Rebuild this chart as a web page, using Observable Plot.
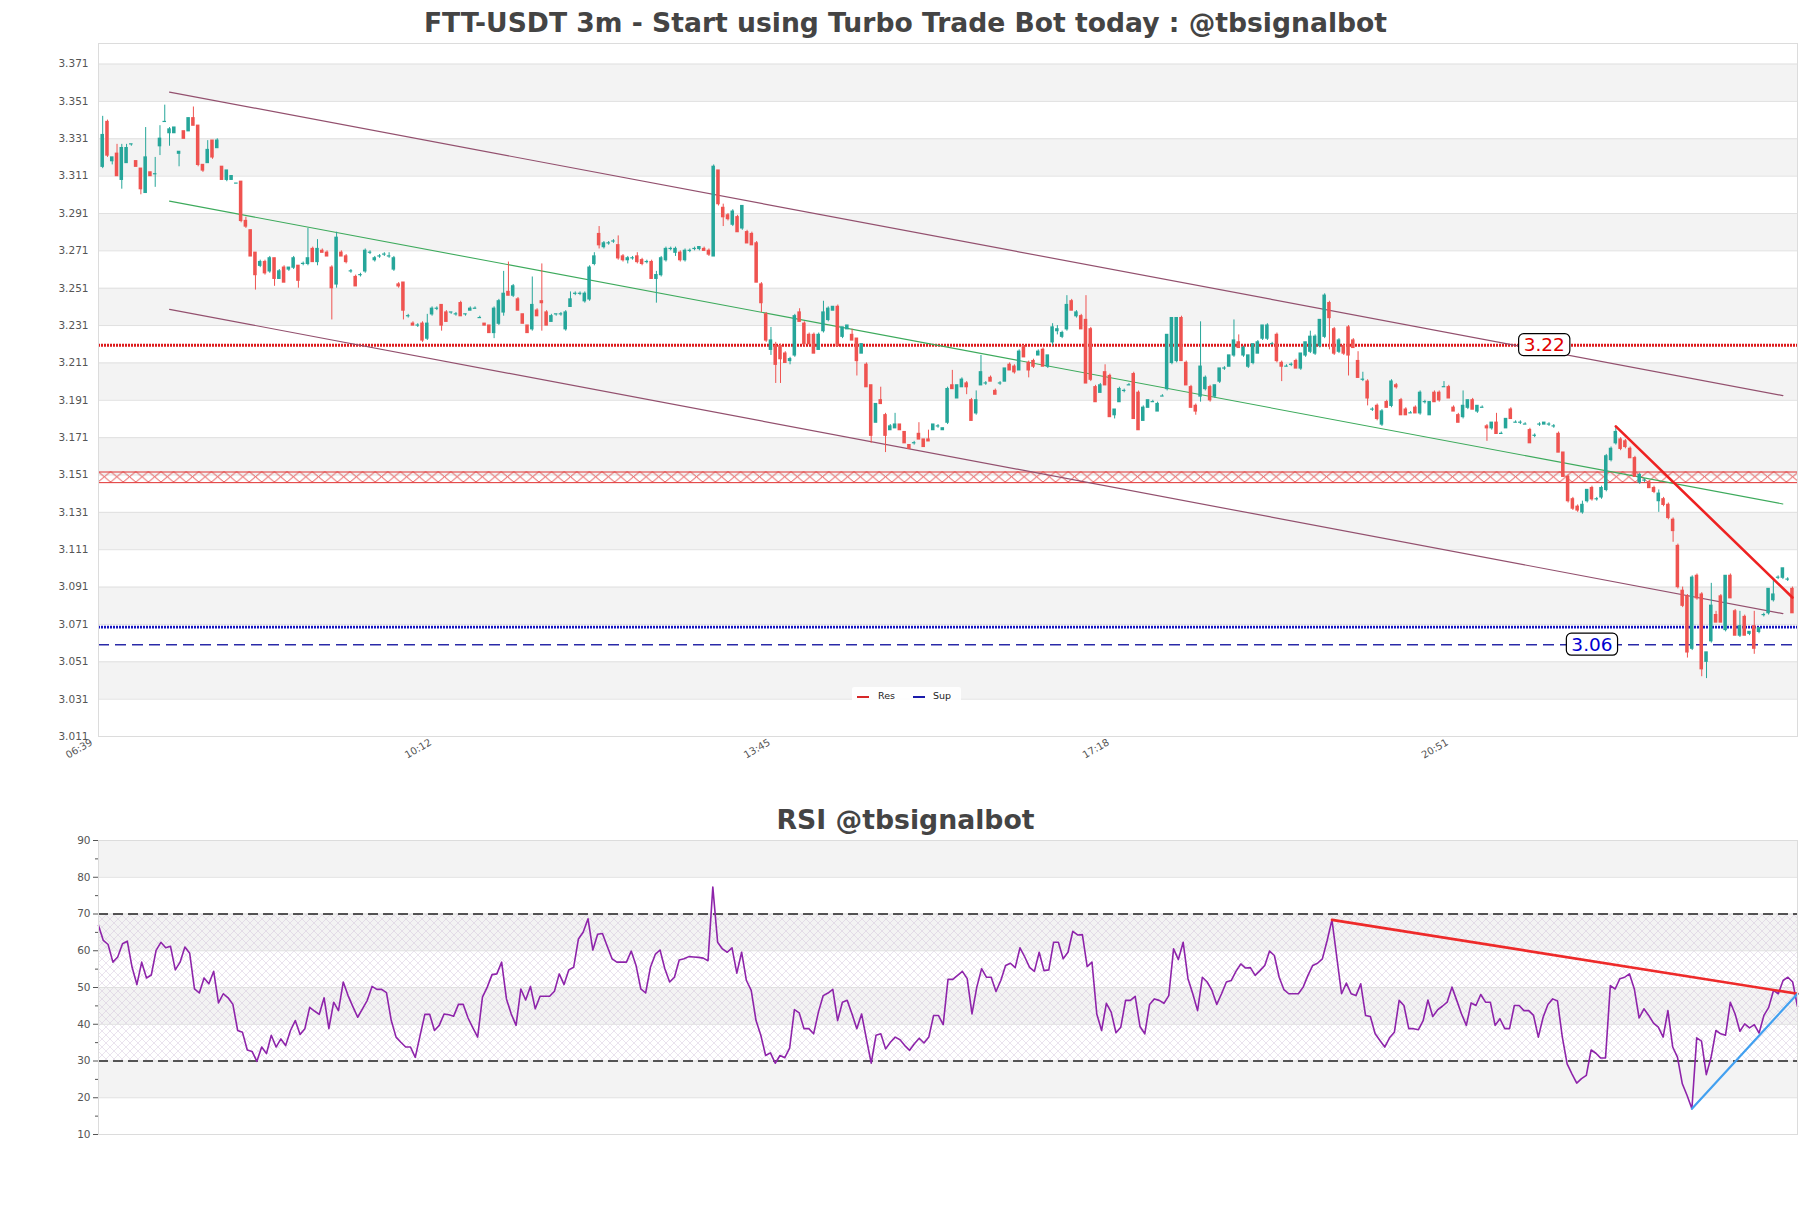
<!DOCTYPE html>
<html>
<head>
<meta charset="utf-8">
<script src="https://cdn.jsdelivr.net/npm/d3@7"></script>
<script src="https://cdn.jsdelivr.net/npm/@observablehq/plot@0.6"></script>
<style>
  html,body{margin:0;padding:0;background:#fff;}
  #wrap{position:relative;width:1811px;height:1208px;overflow:hidden;font-family:"DejaVu Sans",sans-serif;background:#fff;}
  .ttl{position:absolute;left:0;width:1811px;text-align:center;font-weight:bold;line-height:26px;color:#444;white-space:nowrap;}
  #ttlMain{top:10px;font-size:26.6px;}
  #ttlRsi{top:807px;font-size:26.7px;}
  #main{position:absolute;left:0;top:38px;}
  #rsi{position:absolute;left:0;top:835px;}
  #legend{position:absolute;left:852px;top:687px;width:109px;height:19px;background:rgba(255,255,255,0.88);font-size:9.5px;color:#222;border-radius:2px;}
  #legend .sw{position:absolute;top:9px;width:12px;height:2px;}
  #legend .lb{position:absolute;top:3px;line-height:12px;}
</style>
</head>
<body>
<div id="wrap">
  <div class="ttl" id="ttlMain">FTT-USDT 3m - Start using Turbo Trade Bot today : @tbsignalbot</div>
  <div id="main"></div>
  <div class="ttl" id="ttlRsi">RSI @tbsignalbot</div>
  <div id="rsi"></div>
  <div id="legend">
    <span class="sw" style="left:5px;background:#d62728"></span><span class="lb" style="left:26px">Res</span>
    <span class="sw" style="left:61px;background:#1a1aaa"></span><span class="lb" style="left:81px">Sup</span>
  </div>
</div>
<script>
// ---------- DATA ----------
// candles: [open, high, low, close] in thousandths of USDT, one per 3-minute bar (index 0 = 06:39)
const ohlc = [
[3316,3343,3315,3333],[3340,3341,3321,3322],[3319,3321,3317,3321],[3323,3328,3311,3311],[3309,3328,3304,3326],
[3318,3328,3318,3326],[3328,3328,3327,3328],[3319,3319,3316,3316],[3315,3315,3301,3304],[3302,3337,3302,3321],
[3313,3313,3311,3311],[3312,3321,3305,3312],[3327,3338,3322,3331],[3340,3349,3340,3340],[3334,3337,3327,3336],
[3334,3337,3334,3337],[3323,3324,3316,3324],[3335,3335,3331,3331],[3335,3342,3335,3342],[3342,3348,3338,3338],
[3338,3338,3316,3317],[3317,3317,3313,3314],[3318,3330,3318,3325],[3330,3330,3320,3321],[3326,3331,3326,3330],
[3316,3316,3309,3309],[3309,3314,3308,3314],[3309,3311,3309,3311],[3307,3307,3307,3307],[3308,3308,3286,3287],
[3287,3289,3283,3284],[3282,3282,3268,3268],[3270,3270,3250,3258],[3263,3266,3262,3265],[3265,3266,3258,3259],
[3260,3268,3259,3267],[3267,3267,3252,3256],[3256,3261,3256,3260],[3262,3263,3254,3254],[3261,3262,3260,3262],
[3262,3268,3261,3267],[3263,3263,3251,3255],[3264,3265,3263,3264],[3264,3283,3263,3267],[3272,3273,3265,3265],
[3265,3277,3263,3272],[3271,3272,3270,3270],[3270,3271,3268,3268],[3262,3263,3234,3251],[3253,3281,3251,3278],
[3270,3271,3268,3268],[3268,3269,3264,3265],[3260,3261,3259,3260],[3257,3258,3252,3252],[3258,3259,3257,3258],
[3260,3272,3259,3271],[3270,3271,3269,3270],[3266,3268,3265,3267],[3268,3269,3267,3268],[3269,3270,3268,3269],
[3268,3270,3267,3268],[3261,3268,3260,3267],[3253,3254,3251,3252],[3254,3254,3234,3239],[3236,3237,3235,3236],
[3232,3233,3231,3231],[3231,3232,3230,3231],[3232,3233,3222,3223],[3224,3237,3223,3232],[3237,3241,3236,3240],
[3240,3241,3239,3240],[3242,3242,3228,3231],[3238,3239,3233,3233],[3238,3238,3237,3238],[3237,3238,3236,3237],
[3243,3244,3236,3236],[3237,3237,3236,3237],[3239,3241,3239,3240],[3240,3241,3240,3240],[3235,3236,3235,3235],
[3232,3232,3231,3231],[3231,3231,3227,3227],[3227,3241,3224,3240],[3232,3245,3231,3244],[3238,3260,3236,3248],
[3249,3265,3247,3247],[3247,3253,3246,3252],[3245,3246,3239,3239],[3237,3237,3232,3232],[3231,3231,3227,3227],
[3229,3257,3228,3242],[3239,3240,3236,3236],[3244,3264,3228,3243],[3238,3239,3231,3231],[3233,3237,3233,3236],
[3237,3237,3236,3237],[3237,3238,3236,3237],[3229,3239,3228,3238],[3241,3249,3241,3245],[3248,3249,3247,3248],
[3248,3249,3247,3248],[3244,3249,3243,3248],[3245,3263,3244,3262],[3264,3270,3263,3268],[3280,3284,3272,3274],
[3273,3276,3272,3275],[3275,3276,3274,3275],[3276,3277,3275,3276],[3274,3279,3266,3267],[3268,3269,3265,3266],
[3266,3268,3264,3267],[3267,3268,3266,3267],[3268,3270,3264,3265],[3266,3267,3263,3264],[3265,3266,3264,3265],
[3265,3266,3256,3256],[3256,3260,3243,3258],[3258,3268,3257,3267],[3266,3273,3265,3272],[3272,3273,3271,3272],
[3270,3273,3268,3272],[3270,3271,3265,3266],[3266,3272,3265,3271],[3271,3272,3270,3271],[3272,3273,3271,3272],
[3272,3273,3271,3273],[3272,3273,3271,3271],[3271,3272,3268,3269],[3268,3317,3268,3316],[3314,3314,3295,3296],
[3294,3296,3284,3289],[3290,3291,3287,3288],[3285,3293,3284,3292],[3289,3290,3281,3281],[3283,3295,3282,3295],
[3281,3282,3275,3275],[3280,3281,3274,3274],[3275,3276,3254,3254],[3253,3254,3238,3243],[3237,3238,3222,3223],
[3218,3230,3215,3223],[3220,3222,3200,3210],[3220,3221,3200,3213],[3216,3217,3211,3211],[3212,3214,3210,3213],
[3215,3237,3214,3236],[3238,3240,3233,3233],[3232,3233,3220,3221],[3226,3227,3221,3221],[3226,3227,3216,3216],
[3218,3227,3218,3226],[3228,3244,3227,3238],[3234,3241,3233,3240],[3239,3241,3239,3241],[3241,3242,3220,3220],
[3225,3230,3224,3230],[3229,3231,3229,3231],[3226,3229,3223,3223],[3224,3224,3204,3212],[3216,3221,3216,3221],
[3210,3211,3198,3198],[3199,3199,3168,3172],[3179,3189,3179,3189],[3191,3198,3189,3189],[3183,3184,3163,3172],
[3175,3178,3175,3177],[3176,3184,3176,3178],[3178,3178,3175,3175],[3174,3174,3168,3168],[3167,3167,3165,3165],
[3168,3169,3167,3168],[3173,3179,3170,3170],[3170,3170,3166,3166],[3170,3175,3169,3169],[3175,3178,3175,3178],
[3177,3178,3176,3177],[3175,3176,3175,3176],[3179,3198,3178,3197],[3199,3207,3197,3197],[3192,3199,3192,3199],
[3198,3203,3198,3202],[3200,3201,3194,3198],[3191,3192,3180,3180],[3184,3196,3183,3191],[3199,3215,3199,3206],
[3200,3201,3199,3200],[3203,3204,3201,3201],[3196,3197,3194,3194],[3200,3201,3199,3200],[3201,3208,3201,3208],
[3210,3211,3207,3207],[3209,3210,3205,3206],[3207,3218,3207,3217],[3220,3220,3214,3214],[3211,3212,3203,3207],
[3212,3213,3208,3209],[3215,3218,3215,3217],[3218,3219,3209,3209],[3209,3215,3208,3215],[3222,3232,3220,3230],
[3228,3231,3226,3229],[3225,3228,3224,3227],[3229,3247,3228,3242],[3244,3245,3239,3239],[3236,3239,3235,3238],
[3236,3237,3229,3229],[3234,3247,3200,3200],[3229,3230,3201,3202],[3198,3199,3190,3190],[3195,3200,3195,3199],
[3206,3210,3199,3199],[3204,3205,3182,3182],[3183,3186,3181,3186],[3190,3198,3190,3197],[3196,3197,3195,3196],
[3199,3200,3199,3199],[3205,3206,3181,3181],[3195,3196,3175,3175],[3180,3188,3180,3187],[3187,3191,3187,3191],
[3190,3191,3190,3190],[3185,3190,3185,3189],[3193,3194,3193,3193],[3197,3226,3196,3226],[3211,3235,3210,3235],
[3212,3235,3211,3235],[3235,3236,3212,3212],[3211,3212,3199,3199],[3198,3199,3187,3187],[3188,3189,3183,3185],
[3193,3233,3190,3209],[3197,3204,3196,3203],[3198,3199,3190,3191],[3193,3199,3192,3199],[3201,3208,3200,3208],
[3208,3209,3207,3208],[3209,3215,3209,3215],[3215,3234,3214,3223],[3222,3226,3219,3219],[3215,3220,3214,3219],
[3209,3215,3208,3215],[3211,3221,3210,3221],[3216,3223,3216,3222],[3224,3231,3223,3231],[3224,3232,3223,3231],
[3221,3222,3221,3221],[3226,3227,3211,3212],[3211,3212,3201,3209],[3209,3210,3209,3209],[3210,3211,3209,3210],
[3212,3213,3208,3208],[3208,3216,3207,3216],[3215,3222,3214,3222],[3217,3228,3216,3225],[3216,3226,3215,3225],
[3220,3234,3219,3234],[3225,3248,3224,3247],[3243,3244,3218,3235],[3229,3230,3215,3216],[3217,3224,3216,3223],
[3220,3221,3215,3216],[3230,3231,3204,3215],[3223,3224,3219,3219],[3212,3217,3203,3203],[3202,3206,3201,3202],
[3201,3202,3188,3192],[3186,3187,3185,3186],[3188,3189,3180,3181],[3178,3186,3177,3185],[3190,3191,3187,3187],
[3188,3202,3187,3201],[3199,3200,3197,3198],[3191,3192,3183,3183],[3186,3187,3183,3183],[3184,3185,3184,3184],
[3187,3188,3184,3184],[3184,3196,3183,3195],[3190,3191,3189,3190],[3183,3190,3183,3190],[3195,3196,3190,3190],
[3195,3196,3190,3191],[3198,3201,3198,3198],[3198,3199,3192,3192],[3187,3188,3185,3185],[3183,3184,3179,3179],
[3182,3196,3181,3188],[3187,3191,3186,3191],[3191,3192,3186,3186],[3185,3188,3184,3188],[3187,3188,3187,3187],
[3177,3178,3169,3176],[3176,3179,3175,3179],[3179,3184,3173,3173],[3173,3174,3173,3173],[3176,3181,3176,3181],
[3186,3187,3181,3181],[3179,3180,3179,3179],[3179,3180,3178,3179],[3178,3179,3178,3178],[3175,3176,3168,3168],
[3172,3173,3171,3172],[3178,3179,3177,3178],[3178,3179,3178,3179],[3178,3179,3177,3178],[3177,3178,3176,3177],
[3173,3174,3163,3163],[3163,3163,3150,3150],[3150,3151,3136,3137],[3138,3139,3132,3133],[3134,3135,3131,3132],
[3131,3137,3130,3135],[3137,3143,3136,3143],[3144,3145,3137,3138],[3138,3139,3137,3138],[3139,3145,3138,3144],
[3143,3162,3142,3161],[3159,3166,3158,3165],[3168,3177,3167,3174],[3170,3171,3164,3165],[3169,3170,3165,3166],
[3165,3166,3160,3160],[3160,3161,3150,3150],[3147,3152,3146,3151],[3148,3149,3147,3148],[3147,3148,3144,3144],
[3144,3145,3141,3142],[3137,3143,3131,3141],[3138,3139,3134,3135],[3135,3136,3127,3128],[3127,3128,3115,3121],
[3113,3114,3090,3091],[3089,3091,3080,3081],[3086,3087,3053,3056],[3058,3097,3057,3096],[3097,3098,3084,3085],
[3087,3088,3043,3047],[3051,3056,3042,3056],[3062,3093,3061,3081],[3076,3078,3072,3072],[3086,3087,3072,3072],
[3068,3097,3067,3097],[3097,3098,3085,3085],[3078,3079,3065,3065],[3065,3078,3064,3070],[3075,3076,3065,3065],
[3066,3067,3065,3067],[3070,3078,3055,3058],[3067,3069,3066,3069],[3076,3077,3075,3076],[3077,3090,3076,3090],
[3084,3095,3083,3087],[3096,3097,3095,3096],[3096,3101,3095,3101],[3095,3096,3094,3095],[3090,3091,3077,3077]
];
const xTickIdx = [0, 71, 142, 213, 284];
const xTickLabels = ["06:39", "10:12", "13:45", "17:18", "20:51"];
const priceTicks = [3.011,3.031,3.051,3.071,3.091,3.111,3.131,3.151,3.171,3.191,3.211,3.231,3.251,3.271,3.291,3.311,3.331,3.351,3.371];
const channelUpper = [[14, 3.356], [352, 3.1935]];
const channelMid   = [[14, 3.2976], [352, 3.1355]];
const channelLower = [[14, 3.2397], [352, 3.0768]];
const resLevel = 3.2205;
const resZone = [3.1469, 3.1526];
const supDotted = 3.0696;
const supDashed = 3.0601;
const priceTrend = [[317, 3.177], [354, 3.0854]];
const levelText = ["3.22", "3.06"];
const levelIdx = [302, 312];
const levelValue = [resLevel, supDashed];
const levelColor = ["#e00000", "#0000d0"];

// RSI, one value per bar
const rsi = [
66.9,62.8,61.7,56.9,58.3,61.9,62.6,55.5,50.8,56.9,
52.6,53.4,60.1,62.3,60.8,61.2,54.8,56.9,61.0,59.3,
49.6,48.5,52.6,51.0,54.4,45.8,48.3,47.2,45.4,38.3,
37.8,33.0,32.6,29.9,33.8,32.0,37.0,33.8,36.0,34.2,
38.3,41.0,37.2,38.8,44.6,43.6,42.7,47.2,38.8,46.0,
43.7,51.5,47.8,44.8,41.9,44.2,46.5,50.3,49.5,49.5,
48.6,41.0,36.5,35.1,33.8,33.8,31.0,36.9,42.7,42.7,
38.3,39.7,42.8,42.6,42.2,45.4,45.4,41.7,39.0,36.5,
47.4,50.1,53.5,53.7,56.9,46.9,42.8,39.7,49.6,46.6,
50.3,44.2,47.6,47.6,47.6,49.0,53.7,50.8,54.8,55.5,
63.2,65.1,68.7,60.2,64.5,64.7,61.2,57.8,56.9,56.9,
56.9,59.9,56.0,49.6,48.5,55.5,59.0,60.2,55.1,51.5,
52.8,57.5,57.8,58.4,
58.3,58.2,58.0,57.3,77.3,
62.3,60.5,59.6,60.8,53.9,59.6,51.9,49.2,41.0,37.0,
31.5,32.2,29.4,31.5,30.9,33.5,44.0,43.1,38.8,38.8,
37.4,43.3,47.8,48.5,49.5,41.0,46.0,46.5,42.8,38.8,
42.8,36.0,29.4,37.0,37.4,33.3,35.1,36.5,35.8,34.2,
32.9,34.7,36.2,34.9,36.5,42.4,42.4,39.9,52.2,52.2,
53.3,54.4,52.4,42.8,50.1,55.1,52.8,52.8,48.9,51.9,
56.0,56.6,55.4,60.8,58.3,55.5,54.4,59.6,54.6,54.8,
62.3,62.3,57.8,59.6,65.3,64.3,64.4,55.7,56.9,42.8,
38.3,45.7,43.3,37.7,39.2,46.5,46.5,47.6,39.4,37.4,
45.4,46.9,46.5,45.7,47.8,60.5,57.6,62.3,52.4,48.3,
43.7,52.8,51.5,49.2,45.4,48.3,51.5,51.9,54.4,56.4,
55.3,55.4,53.3,54.6,56.0,59.9,58.7,52.8,49.4,48.3,
48.3,48.3,
50.1,53.3,56.0,56.6,57.8,62.8,68.4,58.3,48.3,51.2,
48.3,47.8,51.0,42.4,42.1,37.4,35.6,33.8,36.3,37.8,
46.5,45.1,38.8,38.8,38.5,41.0,46.6,42.1,43.9,44.9,
46.0,50.1,46.5,42.8,39.7,45.8,45.1,48.1,46.0,46.0,
39.7,41.5,38.8,38.8,45.1,45.1,43.7,43.7,42.4,36.5,
41.9,45.4,46.9,46.3,36.5,29.2,26.5,24.0,25.2,26.1,
33.0,32.1,30.8,30.8,50.5,49.6,52.4,52.8,53.7,49.6,
41.7,44.2,42.4,40.3,39.2,36.5,43.7,33.8,31.0,23.8,
20.6,17.0,36.3,35.4,26.3,31.0,38.3,37.4,37.0,46.0,
42.8,38.1,40.1,39.0,39.9,37.6,42.4,44.6,49.2,48.3,
51.9,52.8,51.5,44.8
];
const rsiTicks = [10,20,30,40,50,60,70,80,90];
const rsiMinorTicks = [15,25,35,45,55,65,75,85];
const rsiBounds = [30, 70];
const rsiTrendRes = [[257, 68.4], [354, 48.3]];
const rsiTrendSup = [[332, 17.0], [354, 48.3]];

// ---------- CHARTS ----------
const ns = "http://www.w3.org/2000/svg";
const UP = "#26a69a", DN = "#ef5350";
const candles = ohlc.map((d, i) => ({i, o: d[0]/1000, h: d[1]/1000, l: d[2]/1000, c: d[3]/1000}));
const col = d => d.c >= d.o ? UP : DN;
const bands = [];
for (let k = 1; k < priceTicks.length - 1; k += 2) bands.push({y1: priceTicks[k], y2: priceTicks[k+1]});
const labels = levelText.map((t, k) => ({t, i: levelIdx[k], v: levelValue[k], c: levelColor[k]}));
const P = d => d[0], V = d => d[1];
const baseStyle = {fontFamily: "DejaVu Sans, sans-serif", fontSize: "10.5px", color: "#555", background: "transparent"};

const main = Plot.plot({
  width: 1811, height: 740, marginLeft: 98, marginRight: 14, marginTop: 5, marginBottom: 42,
  style: baseStyle,
  color: {type: "identity"},
  x: {domain: [-0.88, 355.06], ticks: xTickIdx, tickFormat: d => xTickLabels[xTickIdx.indexOf(d)], tickRotate: -30, tickSize: 0, tickPadding: 4, label: null},
  y: {domain: [3.011, 3.382], ticks: priceTicks, tickFormat: d => d.toFixed(3), tickSize: 0, tickPadding: 10, label: null},
  marks: [
    Plot.rect(bands, {y1: "y1", y2: "y2", fill: "#f3f3f3"}),
    Plot.ruleY(priceTicks, {stroke: "#e0e0e0"}),
    Plot.rect([resZone], {y1: d => d[0], y2: d => d[1], fill: "url(#resHatch)"}),
    Plot.ruleY(resZone, {stroke: "#e03030", strokeWidth: 1}),
    Plot.ruleY([resLevel], {stroke: "#dd1a1c", strokeWidth: 3, strokeDasharray: "2,1"}),
    Plot.ruleY([supDotted], {stroke: "#1414c0", strokeWidth: 2.8, strokeDasharray: "2,1"}),
    Plot.ruleY([supDashed], {stroke: "#2a2aa8", strokeWidth: 1.4, strokeDasharray: "11,6"}),
    Plot.line(channelUpper, {x: P, y: V, stroke: "#93506e", strokeWidth: 1.2}),
    Plot.line(channelMid, {x: P, y: V, stroke: "#3daa5c", strokeWidth: 1.1}),
    Plot.line(channelLower, {x: P, y: V, stroke: "#93506e", strokeWidth: 1.2}),
    Plot.ruleX(candles, {x: "i", y1: "l", y2: "h", stroke: col, strokeWidth: 1}),
    Plot.rect(candles, {x1: d => d.i - 0.37, x2: d => d.i + 0.37, y1: "o", y2: "c", fill: col, insetTop: -0.6, insetBottom: -0.6}),
    Plot.line(priceTrend, {x: P, y: V, stroke: "#ee2222", strokeWidth: 2.6}),
    Plot.text(labels, {x: "i", y: "v", text: "t", fill: "c", fontSize: 18.5}),
    Plot.frame({stroke: "#dcdcdc"})
  ]
});

const rsiBands = [];
for (let k = 1; k < rsiTicks.length - 1; k += 2) rsiBands.push({y1: rsiTicks[k], y2: rsiTicks[k+1]});

const rsiChart = Plot.plot({
  width: 1811, height: 320, marginLeft: 98, marginRight: 14, marginTop: 5, marginBottom: 21,
  style: baseStyle,
  x: {domain: [0, 354], axis: null},
  y: {domain: [10, 90]},
  marks: [
    Plot.rect(rsiBands, {y1: "y1", y2: "y2", fill: "#f3f3f3"}),
    Plot.rect([rsiBounds], {y1: d => d[0], y2: d => d[1], fill: "url(#rsiHatch)"}),
    Plot.ruleY(rsiTicks, {stroke: "#e0e0e0"}),
    Plot.ruleY(rsiBounds, {stroke: "#222", strokeWidth: 1.3, strokeDasharray: "10,5"}),
    Plot.line(rsi, {x: (d, i) => i, y: d => d, stroke: "#8e24aa", strokeWidth: 1.6}),
    Plot.line(rsiTrendRes, {x: P, y: V, stroke: "#ee2a2a", strokeWidth: 2.6}),
    Plot.line(rsiTrendSup, {x: P, y: V, stroke: "#42a0f0", strokeWidth: 2.2}),
    Plot.axisY({ticks: rsiTicks, tickSize: 5, tickPadding: 3, tickFormat: d => d, label: null}),
    Plot.axisY({ticks: rsiMinorTicks, tickSize: 3, tickFormat: () => "", label: null}),
    Plot.frame({stroke: "#dcdcdc"})
  ]
});

document.getElementById("main").appendChild(main);
document.getElementById("rsi").appendChild(rsiChart);

function addPattern(svg, id, x, y, w, h, d, stroke, sw, opacity) {
  let defs = svg.querySelector("defs");
  if (!defs) { defs = document.createElementNS(ns, "defs"); svg.insertBefore(defs, svg.firstChild); }
  const p = document.createElementNS(ns, "pattern");
  p.setAttribute("id", id);
  p.setAttribute("patternUnits", "userSpaceOnUse");
  p.setAttribute("x", x); p.setAttribute("y", y);
  p.setAttribute("width", w); p.setAttribute("height", h);
  const path = document.createElementNS(ns, "path");
  path.setAttribute("d", d);
  path.setAttribute("stroke", stroke);
  path.setAttribute("stroke-width", sw);
  path.setAttribute("fill", "none");
  if (opacity != null) path.setAttribute("opacity", opacity);
  p.appendChild(path);
  defs.appendChild(p);
}
// red cross-hatch for the resistance zone, aligned to the band
{
  const ys = main.scale("y");
  const top = ys.apply(resZone[1]), bot = ys.apply(resZone[0]);
  const h = bot - top, w = 12.6;
  addPattern(main, "resHatch", 98, top, w, h, `M0,0L${w},${h}M0,${h}L${w},0`, "#e03030", 0.9);
}
// light lavender hatch for the RSI 30-70 band
addPattern(rsiChart, "rsiHatch", 98, 0, 8, 8, "M0,0L8,8M0,8L8,0", "#c8b6d2", 0.55, 0.7);

// boxed level labels
main.querySelectorAll('g[aria-label="text"] text').forEach(t => {
  const b = t.getBBox();
  const r = document.createElementNS(ns, "rect");
  r.setAttribute("x", b.x - 5); r.setAttribute("y", b.y - 0.5);
  r.setAttribute("width", b.width + 10); r.setAttribute("height", b.height + 1);
  r.setAttribute("rx", 5); r.setAttribute("fill", "#fff");
  r.setAttribute("stroke", "#000"); r.setAttribute("stroke-width", 1.2);
  const tr = t.getAttribute("transform");
  if (tr) r.setAttribute("transform", tr);
  t.parentNode.insertBefore(r, t);
});
// rotated time labels: slightly larger and shifted left like the original
main.querySelectorAll('g[aria-label="x-axis tick label"]').forEach(g => {
  g.setAttribute("font-size", "10");
  g.querySelectorAll("text").forEach(t => t.setAttribute("font-size", "10"));
  const tr = g.getAttribute("transform") || "";
  g.setAttribute("transform", "translate(-11,1) " + tr);
});
</script>
</body>
</html>
